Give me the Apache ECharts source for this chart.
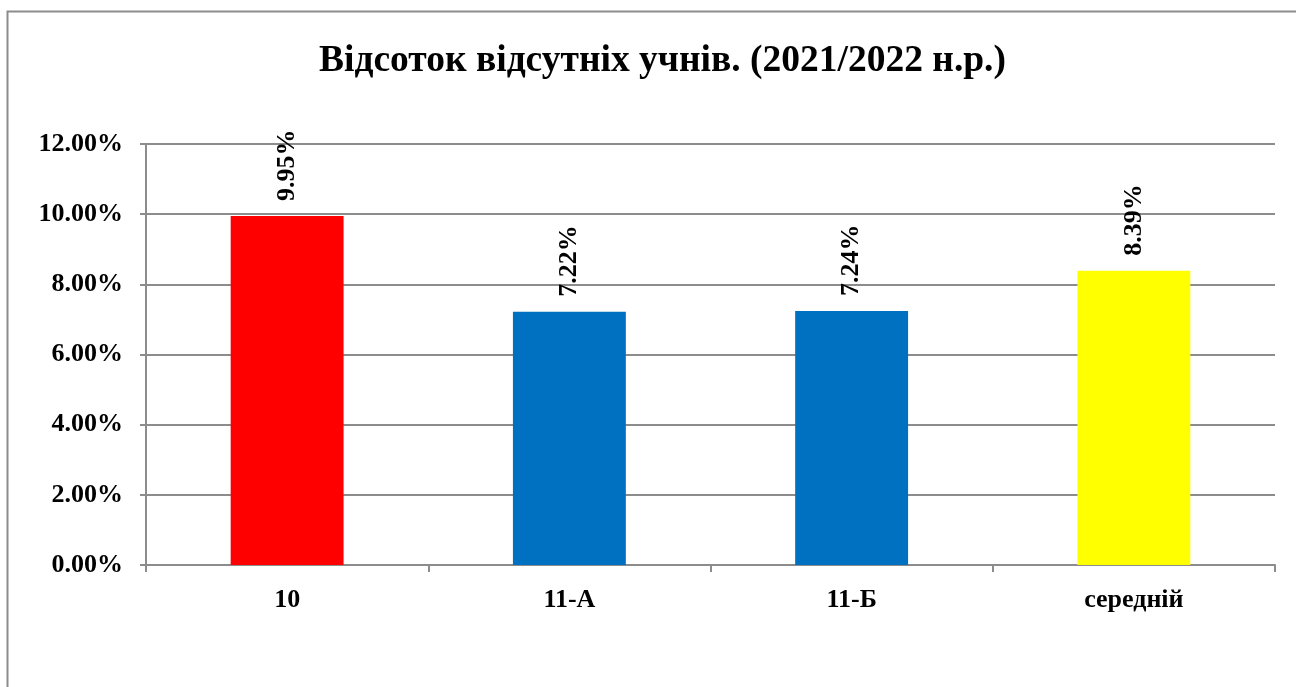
<!DOCTYPE html>
<html>
<head>
<meta charset="utf-8">
<script src="https://cdn.jsdelivr.net/npm/echarts@6/dist/echarts.min.js"></script>
<style>
  html, body { margin: 0; padding: 0; background: #fff; }
  #main { width: 1296px; height: 687px; }
</style>
</head>
<body>
<div id="main"></div>
<script>
// дані
const categories = ['10', '11-А', '11-Б', 'середній']
const values = [9.95, 7.22, 7.24, 8.39]
const barColors = ['#ff0000', '#0070c0', '#0070c0', '#ffff00']

const font = '"Liberation Serif", "Times New Roman", serif'

const myChart = echarts.init(document.getElementById('main'))

const option = {
  backgroundColor: '#fff',
  animation: false,
  title: {
    text: 'Відсоток відсутніх учнів. (2021/2022 н.р.)',
    left: 314,
    top: 37,
    textStyle: { fontFamily: font, fontSize: 37.5, fontWeight: 'bold', color: '#000' }
  },
  graphic: [{
    type: 'rect',
    shape: { x: 7.5, y: 11.5, width: 1400, height: 800 },
    style: { fill: 'none', stroke: '#8c8c8c', lineWidth: 2 },
    silent: true
  }],
  grid: { left: 146, right: 21, top: 144, bottom: 122 },
  xAxis: {
    type: 'category',
    data: categories,
    axisLine: { lineStyle: { color: '#8c8c8c', width: 2 } },
    axisTick: { show: true, length: 7, lineStyle: { color: '#8c8c8c', width: 2 } },
    axisLabel: { fontFamily: font, fontSize: 26, fontWeight: 'bold', color: '#000', margin: 22 }
  },
  yAxis: {
    type: 'value',
    min: 0,
    max: 12,
    interval: 2,
    axisLine: { show: true, lineStyle: { color: '#8c8c8c', width: 2 } },
    axisTick: { show: true, length: 6, lineStyle: { color: '#8c8c8c', width: 2 } },
    splitLine: { lineStyle: { color: '#8c8c8c', width: 2 } },
    axisLabel: {
      fontFamily: font, fontSize: 26, fontWeight: 'bold', color: '#000', margin: 23,
      formatter: v => v.toFixed(2) + '%'
    }
  },
  series: [{
    type: 'bar',
    barWidth: '40%',
    data: values.map((v, i) => ({ value: v, itemStyle: { color: barColors[i] } })),
    label: {
      show: true,
      position: 'top',
      rotate: 90,
      align: 'left',
      verticalAlign: 'middle',
      distance: 15,
      fontFamily: font,
      fontSize: 26,
      fontWeight: 'bold',
      color: '#000',
      formatter: p => p.value.toFixed(2) + '%'
    }
  }]
}

myChart.setOption(option)
</script>
</body>
</html>
